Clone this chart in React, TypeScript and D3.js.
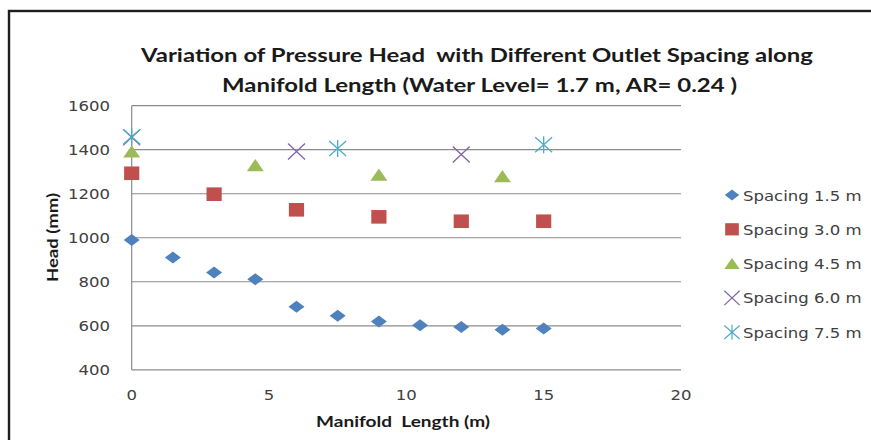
import React from "react";
import * as d3 from "d3";

const titleLines = [
  "Variation of Pressure Head  with Different Outlet Spacing along",
  "Manifold Length (Water Level= 1.7 m, AR= 0.24 )",
];
const xTicks = [0, 5, 10, 15, 20];
const yTicks = [400, 600, 800, 1000, 1200, 1400, 1600];

const seriesNames = ["Spacing 1.5 m", "Spacing 3.0 m", "Spacing 4.5 m", "Spacing 6.0 m", "Spacing 7.5 m"];
const s15x = [0, 1.5, 3, 4.5, 6, 7.5, 9, 10.5, 12, 13.5, 15];
const s15y = [990, 910, 842, 811, 687, 646, 620, 602, 594, 582, 588];
const s30x = [0, 3, 6, 9, 12, 15];
const s30y = [1293, 1198, 1127, 1095, 1075, 1075];
const s45x = [0, 4.5, 9, 13.5];
const s45y = [1392, 1329, 1286, 1279];
const s60x = [0, 6, 12];
const s60y = [1456, 1392, 1378];
const s75x = [0, 7.5, 15];
const s75y = [1459, 1406, 1423];

const colors = ["#4F81BD", "#C0504D", "#9BBB59", "#8064A2", "#4BACC6"];
const shapes = ["diamond", "square", "triangle", "x", "star"];

const W = 871;
const H = 440;
const x = d3.scaleLinear().domain([0, 20]).range([131.7, 681]);
const y = d3.scaleLinear().domain([400, 1600]).range([369.8, 105.7]);

function markerPath(shape: string): string {
  const p = d3.path();
  if (shape === "diamond") {
    p.moveTo(0, -6); p.lineTo(8, 0); p.lineTo(0, 6); p.lineTo(-8, 0); p.closePath();
  } else if (shape === "square") {
    p.rect(-7.6, -6.8, 15.2, 13.6);
  } else if (shape === "triangle") {
    p.moveTo(0, -6.3); p.lineTo(8.5, 6); p.lineTo(-8.5, 6); p.closePath();
  } else if (shape === "x") {
    p.moveTo(-8.5, -8); p.lineTo(8.5, 8); p.moveTo(8.5, -8); p.lineTo(-8.5, 8);
  } else {
    p.moveTo(-8.5, -7.5); p.lineTo(8.5, 7.5); p.moveTo(8.5, -7.5); p.lineTo(-8.5, 7.5);
    p.moveTo(0, -8.5); p.lineTo(0, 8.5);
  }
  return p.toString();
}

function Marker({ shape, color, cx, cy }: { shape: string; color: string; cx: number; cy: number }) {
  const stroked = shape === "x" || shape === "star";
  return (
    <path
      d={markerPath(shape)}
      transform={`translate(${cx},${cy})`}
      fill={stroked ? "none" : color}
      stroke={stroked ? color : "none"}
      strokeWidth={stroked ? 1.3 : 0}
    />
  );
}

const tickFont = "'DejaVu Sans', Verdana, sans-serif";
const boldFont = "Lato, 'Open Sans', sans-serif";
const SX = 1.18;

export default function App() {
  const series = [
    { xs: s15x, ys: s15y },
    { xs: s30x, ys: s30y },
    { xs: s45x, ys: s45y },
    { xs: s60x, ys: s60y },
    { xs: s75x, ys: s75y },
  ];
  const legendY0 = 195;
  const legendStep = 34.3;
  return (
    <svg width={W} height={H} style={{ position: "absolute", left: 0, top: 0, background: "#fff" }}>
      <rect x={0} y={0} width={W} height={H} fill="#fff" />
      <rect x={9} y={11} width={W + 20} height={H + 20} fill="none" stroke="#1e1e1e" strokeWidth={2.4} />

      {titleLines.map((t, i) => (
        <text
          key={i}
          x={i === 0 ? 141 : 222}
          y={i === 0 ? 62 : 92}
          textLength={i === 0 ? 672 : 515}
          lengthAdjust="spacingAndGlyphs"
          fontFamily={boldFont}
          fontWeight="bold"
          fontSize={18}
          fill="#1a1a1a"
          style={{ whiteSpace: "pre" }}
        >
          {t}
        </text>
      ))}

      {/* gridlines */}
      {yTicks.map((v) => (
        <line key={v} x1={x(0)} x2={x(20)} y1={y(v)} y2={y(v)} stroke="#8c8c8c" strokeWidth={1.2} />
      ))}
      <line x1={x(0)} x2={x(0)} y1={y(1600)} y2={y(400)} stroke="#8c8c8c" strokeWidth={1.2} />

      {/* y tick labels */}
      {yTicks.map((v) => (
        <text
          key={v}
          transform={`translate(110,${y(v) + 5.5}) scale(${SX},1)`}
          textAnchor="end"
          fontFamily={tickFont}
          fontSize={14}
          fill="#404040"
        >
          {v}
        </text>
      ))}
      {/* x tick labels */}
      {xTicks.map((v) => (
        <text
          key={v}
          transform={`translate(${x(v)},400) scale(${SX},1)`}
          textAnchor="middle"
          fontFamily={tickFont}
          fontSize={14}
          fill="#404040"
        >
          {v}
        </text>
      ))}

      {/* axis titles */}
      <text
        x={316}
        y={427}
        textLength={174}
        lengthAdjust="spacingAndGlyphs"
        fontFamily={boldFont}
        fontWeight="bold"
        fontSize={14.5}
        fill="#1a1a1a"
        style={{ whiteSpace: "pre" }}
      >
        Manifold  Length (m)
      </text>
      <text
        transform="translate(58,282) rotate(-90)"
        x={0}
        y={0}
        textLength={89}
        lengthAdjust="spacingAndGlyphs"
        fontFamily={boldFont}
        fontWeight="bold"
        fontSize={14.5}
        fill="#1a1a1a"
      >
        Head (mm)
      </text>

      {/* data */}
      {series.map((s, si) => (
        <g key={si}>
          {s.xs.map((xv, i) => (
            <Marker key={i} shape={shapes[si]} color={colors[si]} cx={x(xv)} cy={y(s.ys[i])} />
          ))}
        </g>
      ))}

      {/* legend */}
      {seriesNames.map((n, i) => (
        <g key={n}>
          <g transform={`translate(732,${legendY0 + i * legendStep}) scale(0.9)`}>
            <Marker shape={shapes[i]} color={colors[i]} cx={0} cy={0} />
          </g>
          <text
            transform={`translate(743,${legendY0 + i * legendStep + 5.5}) scale(${SX},1)`}
            fontFamily={tickFont}
            fontSize={14}
            fill="#404040"
          >
            {n}
          </text>
        </g>
      ))}
    </svg>
  );
}
